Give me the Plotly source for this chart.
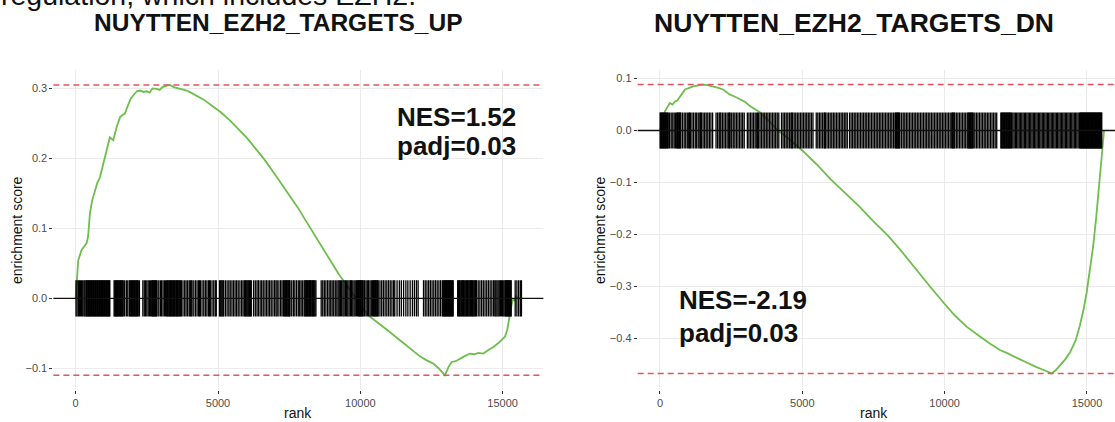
import plotly.graph_objects as go

# ---------------- data ----------------
up_rank = [0, 40, 90, 150, 210, 300, 385, 420, 440, 470, 500, 580, 680, 760, 855, 950, 1090, 1150,
           1200, 1260, 1320, 1440, 1560, 1650, 1730, 1800, 1850, 1930, 2020, 2150, 2260, 2380, 2490,
           2600, 2700, 2845, 2950, 3050, 3200, 3300, 3450, 3550, 3700, 3900, 4050, 4250, 4500, 4800,
           5100, 5400, 5700, 6000, 6300, 6600, 6900, 7200, 7500, 7800, 8100, 8400, 8700, 9000, 9250,
           9500, 9700, 9900, 10100, 10300, 10500, 10700, 11000, 11390, 11700, 12095, 12300, 12550,
           12750, 12970, 13100, 13210, 13350, 13500, 13650, 13850, 14000, 14150, 14320, 14500, 14660,
           14850, 15000, 15080, 15160, 15250, 15320, 15370, 15420, 15470, 15550, 15650]
up_es = [0.0, 0.03, 0.054, 0.062, 0.069, 0.074, 0.079, 0.085, 0.09, 0.105, 0.121, 0.14, 0.154, 0.165,
         0.173, 0.19, 0.211, 0.225, 0.23, 0.228, 0.226, 0.245, 0.259, 0.262, 0.264, 0.272, 0.278, 0.285,
         0.29, 0.296, 0.297, 0.295, 0.296, 0.294, 0.3, 0.2995, 0.298, 0.302, 0.304, 0.305, 0.302, 0.301,
         0.299, 0.297, 0.294, 0.29, 0.284, 0.275, 0.266, 0.255, 0.243, 0.23, 0.215, 0.2, 0.183, 0.165,
         0.148, 0.13, 0.11, 0.09, 0.07, 0.05, 0.034, 0.02, 0.008, -0.003, -0.015, -0.025, -0.031, -0.037,
         -0.047, -0.06, -0.07, -0.083, -0.088, -0.093, -0.1, -0.11, -0.098, -0.091, -0.09, -0.086, -0.083,
         -0.079, -0.08, -0.078, -0.079, -0.074, -0.07, -0.064, -0.058, -0.055, -0.045, -0.022, -0.008,
         0.0, -0.004, 0.003, 0.0, 0.0]
up_hits = [12, 48, 95, 130, 170, 205, 248, 290, 322, 360,
           385, 405, 432, 455, 478, 500, 528, 552, 575, 601, 624, 650, 672, 698, 720, 745, 770, 792, 818,
           840, 866, 890, 912, 938, 960, 985, 1010, 1034, 1058, 1082, 1108, 1130, 1155, 1180, 1200,
           1350, 1378, 1400, 1425, 1450, 1472, 1495, 1520, 1548, 1570, 1596, 1620, 1648, 1670, 1720, 1780,
           1830, 1885, 1915, 1940, 1962, 1990, 2015, 2040, 2068, 2092, 2118, 2145, 2170, 2198, 2240,
           2360, 2410, 2455, 2500, 2548, 2590, 2635,
           2672, 2695, 2718, 2740, 2765, 2788, 2810, 2835, 2860,
           2920, 2975, 3020, 3070, 3118, 3160,
           3198, 3225, 3250, 3280, 3305, 3330, 3360, 3385, 3412, 3440, 3465, 3492, 3520, 3548, 3575, 3602,
           3630, 3658, 3685, 3712,
           3770, 3830, 3880, 3935, 3990, 4030, 4060, 4090, 4150, 4210, 4265, 4320, 4350, 4380, 4440, 4500,
           4555, 4610, 4665, 4700, 4730, 4790, 4850, 4905, 4940,
           5050, 5080, 5110, 5140, 5170, 5200, 5260, 5320, 5380, 5430, 5490, 5545, 5600, 5655, 5710, 5770,
           5830, 5880, 5930, 5960, 5990, 6020, 6050, 6080, 6110, 6140, 6170,
           6250, 6310, 6370, 6420, 6480, 6535, 6590, 6650, 6705, 6760, 6815, 6870, 6930, 6990, 7040, 7080,
           7140, 7200, 7250, 7300, 7325, 7350, 7378, 7405, 7430, 7458, 7485, 7510, 7530, 7590, 7650, 7700,
           7760, 7820, 7870,
           7920, 7975, 8030, 8060, 8085, 8110, 8138, 8165, 8190, 8218, 8245, 8270, 8298, 8325, 8350, 8378,
           8405, 8440,
           8625, 8680, 8735, 8790, 8850, 8905, 8960, 9010, 9065, 9120, 9175, 9220,
           9260, 9300, 9345, 9390, 9430, 9475, 9520, 9560, 9605, 9650, 9690, 9735, 9780, 9820, 9865, 9905,
           9935, 9958, 9982, 10005, 10030, 10055, 10080, 10100, 10150, 10200, 10245, 10290, 10340, 10385,
           10430, 10458, 10480, 10505, 10530, 10555, 10580, 10605, 10628,
           10690, 10750, 10810, 10870, 10930, 10990, 11050, 11110, 11170, 11210,
           11290, 11370, 11440, 11520, 11600, 11670, 11750, 11830, 11900, 11970, 12030,
           12220, 12280, 12340, 12400, 12460, 12520, 12580, 12640, 12700, 12760, 12820, 12880,
           12915, 12940, 12962, 12985, 13008, 13030, 13055, 13078, 13100, 13125, 13148, 13170, 13195,
           13218, 13240, 13262,
           13420, 13450, 13478, 13505, 13535, 13562, 13590, 13620, 13648, 13675, 13705, 13735, 13762,
           13790, 13820, 13848, 13875, 13905, 13935, 13962, 13990, 14020, 14050, 14080,
           14140, 14200, 14260, 14320, 14380, 14440, 14500, 14560, 14620, 14680, 14725,
           14760, 14800, 14840, 14880, 14920, 14960, 15000, 15040, 15080, 15100, 15122, 15145, 15168,
           15190, 15212, 15235, 15258, 15280, 15300,
           15440, 15500, 15560, 15620, 15660]

dn_rank = [0, 90, 175, 260, 350, 440, 525, 610, 700, 790, 880, 1000, 1170, 1350, 1520, 1700, 1870,
           2050, 2220, 2350, 2460, 2600, 2810, 3000, 3160, 3350, 3510, 3800, 4150, 4500, 4990, 5500,
           6000, 6500, 7000, 7500, 8000, 8430, 8800, 9130, 9550, 9950, 10350, 10770, 11000, 11240, 11600,
           11940, 12200, 12410, 12650, 12880, 13050, 13230, 13500, 13760, 13900, 14050, 14250, 14400,
           14600, 14750, 14880, 14990, 15100, 15220, 15320, 15400, 15470, 15520, 15560, 15600]
dn_es = [0.0, 0.02, 0.037, 0.045, 0.053, 0.05, 0.056, 0.058, 0.066, 0.072, 0.079, 0.082, 0.085, 0.087,
         0.0885, 0.087, 0.085, 0.082, 0.079, 0.073, 0.069, 0.066, 0.061, 0.055, 0.047, 0.04, 0.035, 0.02,
         0.0, -0.015, -0.038, -0.065, -0.094, -0.12, -0.146, -0.175, -0.202, -0.229, -0.254, -0.278,
         -0.305, -0.331, -0.356, -0.378, -0.388, -0.397, -0.411, -0.423, -0.429, -0.434, -0.441, -0.447,
         -0.452, -0.456, -0.462, -0.468, -0.462, -0.453, -0.44, -0.428, -0.405, -0.376, -0.345, -0.312,
         -0.27, -0.222, -0.17, -0.12, -0.08, -0.056, -0.03, 0.0]
dn_hits = [5, 28, 52, 75, 100, 122, 148, 170, 195, 220, 245, 268, 290,
           340, 395, 450, 500, 548,
           590, 612, 636, 660, 685, 708, 732,
           790, 850, 905, 960, 1010, 1040, 1070, 1125, 1180, 1240, 1290, 1345, 1400, 1430, 1460, 1515,
           1570, 1625, 1680, 1735, 1790, 1850,
           1970, 2025, 2080, 2110, 2140, 2195, 2250, 2305, 2360, 2415, 2440, 2465, 2520, 2575, 2630, 2685,
           2740, 2795, 2850, 2905, 2960,
           3070, 3125, 3180, 3235, 3290, 3345, 3400, 3430, 3460, 3515, 3570, 3625, 3680, 3735, 3790, 3845,
           3900, 3955, 4010, 4065, 4120, 4175,
           4270, 4325, 4380, 4435, 4490, 4545, 4600, 4630, 4660, 4715, 4770, 4825, 4880, 4935, 4990, 5045,
           5100, 5155, 5210, 5265, 5320, 5375,
           5490, 5545, 5600, 5655, 5710, 5765, 5790, 5815, 5870, 5925, 5980, 6035, 6090, 6145, 6200, 6255,
           6310, 6365, 6420, 6475, 6530, 6580,
           6660, 6715, 6770, 6825, 6880, 6935, 6990, 7045, 7100, 7155, 7210, 7265, 7320, 7375, 7430, 7485,
           7540, 7595, 7650, 7705,
           7760, 7815, 7870, 7925, 7980, 8035, 8090, 8145, 8200, 8255, 8280, 8305, 8330, 8355, 8380, 8405,
           8430, 8490, 8545, 8600, 8655, 8710, 8765, 8820, 8875, 8930, 8985, 9040, 9095, 9150, 9205, 9260,
           9315, 9370, 9425, 9480, 9535, 9590, 9645, 9700, 9755, 9810, 9865, 9920, 9975, 10030, 10085,
           10140, 10195, 10250, 10275, 10300, 10325, 10355, 10410, 10465, 10520, 10575, 10630, 10685,
           10740, 10795, 10830, 10855, 10880, 10905, 10930, 10955, 10980, 11005, 11060, 11115, 11170,
           11225, 11280, 11335, 11390, 11445, 11500, 11555, 11610, 11665, 11720, 11775, 11830,
           11975, 12000, 12025, 12050, 12075, 12100, 12125, 12150, 12175, 12200, 12225, 12250, 12275,
           12300, 12325, 12350, 12395, 12440, 12485, 12530, 12575, 12620, 12665, 12710, 12755, 12800,
           12845, 12890, 12935, 12980, 13025, 13070, 13115, 13160, 13205, 13250, 13295, 13340, 13385,
           13430, 13475, 13520, 13565, 13610, 13655, 13700, 13745, 13790, 13835, 13880, 13925, 13970,
           14015, 14060, 14105, 14150, 14195, 14240, 14285, 14330, 14375, 14420, 14465, 14510, 14555,
           14600, 14645, 14690, 14735,
           14760, 14780, 14800, 14820, 14840, 14860, 14880, 14900, 14920, 14940, 14960, 14980, 15000,
           15020, 15040, 15060, 15080, 15100, 15120, 15140, 15160, 15180, 15200, 15220, 15240, 15260,
           15280, 15300, 15320, 15340, 15360, 15380, 15400, 15420, 15440, 15460, 15480, 15500, 15520]

titles = ["NUYTTEN_EZH2_TARGETS_UP", "NUYTTEN_EZH2_TARGETS_DN"]
nes_text = ["NES=1.52", "NES=-2.19"]
padj_text = ["padj=0.03", "padj=0.03"]
x_ticks = [0, 5000, 10000, 15000]
up_yticks = [-0.1, 0.0, 0.1, 0.2, 0.3]
dn_yticks = [-0.4, -0.3, -0.2, -0.1, 0.0, 0.1]
caption = "regulation, which includes EZH2."

# ---------------- layout helpers ----------------
W, H = 1115, 422
FONT = "Liberation Sans, Arial, Helvetica, sans-serif"
GREEN = "#6DBE4B"
RED = "#E2545E"


def px(x):
    return x / W


def py(y):
    return 1 - y / H


fig = go.Figure()


def barcode(hits, es):
    h = (max(es) - min(es)) / 16
    xs, ys = [], []
    for r in hits:
        xs += [r, r, None]
        ys += [-h, h, None]
    return xs, ys


panels = [
    dict(rank=up_rank, es=up_es, hits=up_hits, xa="x", ya="y"),
    dict(rank=dn_rank, es=dn_es, hits=dn_hits, xa="x2", ya="y2"),
]

shapes = []
for p in panels:
    fig.add_trace(go.Scatter(x=p["rank"], y=p["es"], mode="lines",
                             line=dict(color=GREEN, width=1.8), xaxis=p["xa"], yaxis=p["ya"],
                             showlegend=False, hoverinfo="skip"))
    bx, by = barcode(p["hits"], p["es"])
    fig.add_trace(go.Scatter(x=bx, y=by, mode="lines", line=dict(color="black", width=1.3),
                             xaxis=p["xa"], yaxis=p["ya"], showlegend=False, hoverinfo="skip"))
    xdom = p["xa"] + " domain"
    for val, col, dash, w in [(max(p["es"]), RED, "6px,4px", 1.5),
                              (min(p["es"]), RED, "6px,4px", 1.5),
                              (0, "#111111", "solid", 1.3)]:
        shapes.append(dict(type="line", xref=xdom, yref=p["ya"], x0=0, x1=1, y0=val, y1=val,
                           line=dict(color=col, width=w, dash=dash), layer="above"))

axis_common = dict(showgrid=True, gridcolor="#EBEBEB", gridwidth=1, zeroline=False, showline=False,
                   ticks="outside", ticklen=3, tickwidth=1, tickcolor="#333333",
                   tickfont=dict(family=FONT, size=11, color="#4D4D4D"))

top_px, bot_px = 70, 390
fig.update_layout(
    width=W, height=H, margin=dict(l=0, r=0, t=0, b=0),
    paper_bgcolor="white", plot_bgcolor="white",
    shapes=shapes,
    xaxis=dict(domain=[px(53.4), px(543.4)], range=[-782, 16431], tickvals=x_ticks, tickformat="d",
               anchor="y", **axis_common),
    yaxis=dict(domain=[py(bot_px), py(top_px)], range=[(298.3 - bot_px) / 699.5, (298.3 - top_px) / 699.5],
               tickvals=up_yticks, tickformat=".1f", anchor="x", **axis_common),
    xaxis2=dict(domain=[px(637.7), 1.0], range=[-782, 15985], tickvals=x_ticks, tickformat="d",
                anchor="y2", **axis_common),
    yaxis2=dict(domain=[py(bot_px), py(top_px)], range=[(130.5 - bot_px) / 519, (130.5 - top_px) / 519],
                tickvals=dn_yticks, tickformat=".1f", anchor="x2", **axis_common),
)

ann = []
# caption, cut by the top edge as in the reference
ann.append(dict(text=caption, x=px(-1), y=py(-5), xref="paper", yref="paper", xanchor="left",
                yanchor="middle", showarrow=False, font=dict(family=FONT, size=28.5, color="#111111")))
# titles
for t, cx, fs in zip(titles, [278, 854], [24.5, 26.5]):
    ann.append(dict(text="<b>" + t + "</b>", x=px(cx), y=py(23), xref="paper", yref="paper",
                    xanchor="center", yanchor="middle", showarrow=False,
                    font=dict(family=FONT, size=fs, color="#111111")))
# NES / padj
for n, pj, lx, y1, y2 in [(nes_text[0], padj_text[0], 395, 117, 146),
                          (nes_text[1], padj_text[1], 677, 300, 333)]:
    for txt, yy in [(n, y1), (pj, y2)]:
        ann.append(dict(text="<b>" + txt + "</b>", x=px(lx), y=py(yy), xref="paper", yref="paper",
                        xanchor="left", yanchor="middle", showarrow=False,
                        font=dict(family=FONT, size=26, color="#111111")))
# axis titles
for cx in [17, 600]:
    ann.append(dict(text="enrichment score", x=px(cx), y=py(230), xref="paper", yref="paper",
                    xanchor="center", yanchor="middle", textangle=-90, showarrow=False,
                    font=dict(family=FONT, size=14, color="#111111")))
for cx in [298, 874]:
    ann.append(dict(text="rank", x=px(cx), y=py(413), xref="paper", yref="paper",
                    xanchor="center", yanchor="middle", showarrow=False,
                    font=dict(family=FONT, size=14, color="#111111")))
fig.update_layout(annotations=ann)

fig.write_html("out.html")
